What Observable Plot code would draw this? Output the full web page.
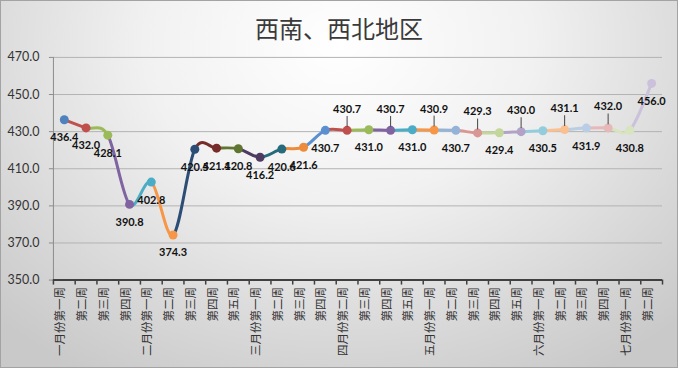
<!DOCTYPE html>
<html><head><meta charset="utf-8">
<script src="https://cdn.jsdelivr.net/npm/d3@7"></script>
<script src="https://cdn.jsdelivr.net/npm/@observablehq/plot@0.6"></script>
<style>
html,body{margin:0;padding:0;background:#fff;}
#wrap{position:relative;width:678px;height:368px;box-sizing:border-box;border:1px solid #a3a3a3;overflow:hidden;
 background:radial-gradient(ellipse 72% 105% at 50% 12%, #ffffff 0%, #f1f1f1 40%, #d9d9d9 75%, #c9c9c9 100%);}
#title{position:absolute;left:0;right:0;top:9px;text-align:center;font:24px "Noto Sans CJK SC";color:#3a3a3a;}
#chart{position:absolute;left:-1px;top:-1px;}
</style></head><body>
<div id="wrap"><div id="title">西南、西北地区</div><div id="chart"></div></div>
<script>
const weeks = ["一月份第一周","第二周","第三周","第四周",
  "二月份第一周","第二周","第三周","第四周","第五周",
  "三月份第一周","第二周","第三周","第四周",
  "四月份第二周","第三周","第四周","第五周",
  "五月份第一周","第二周","第三周","第四周","第五周",
  "六月份第一周","第二周","第三周","第四周",
  "七月份第一周","第二周"];
const values = [436.4,432.0,428.1,390.8,402.8,374.3,420.5,421.1,420.8,416.2,420.6,421.6,
  430.7,430.7,431.0,430.7,431.0,430.9,430.7,429.3,429.4,430.0,430.5,431.1,431.9,432.0,430.8,456.0];
const yTicks = [350,370,390,410,430,450,470];
// styling: colour of each point (Excel "vary colours by point")
const pointColors = ["#4F81BD","#C0504D","#9BBB59","#8064A2","#4BACC6","#F79646",
  "#2C4D75","#772C2A","#5F7530","#4D3B62","#276A7C","#EE8B3A",
  "#5B8FD0","#C0504D","#9BBB59","#8064A2","#4BACC6","#F79646",
  "#95B3D7","#D99694","#C3D69B","#B3A2C7","#93CDDD","#FAC090",
  "#B9CDE5","#E6B9B8","#D7E4BD","#CCC1DA"];
// styling: which labels sit above their point (with a leader line)
const labelAbove = [14,16,18,20,22,24,26];

const pts = values.map((v,i)=>({i, x:i+0.5, v, week:weeks[i], color:pointColors[i], above:labelAbove.includes(i+1)}));
const segs = [];
for (let i=1;i<pts.length;i++){
  const idx=[Math.max(i-2,0),i-1,i,Math.min(i+1,pts.length-1)];
  idx.forEach(k=>segs.push({seg:i, x:pts[k].x, v:pts[k].v, color:pts[i].color}));
}
function segCurve(context){
  let p=[];
  return {
    areaStart(){}, areaEnd(){},
    lineStart(){p=[];},
    point(x,y){p.push([x,y]);},
    lineEnd(){
      if(p.length<4) return;
      const [p0,p1,p2,p3]=p;
      context.moveTo(p1[0],p1[1]);
      context.bezierCurveTo(p1[0]+(p2[0]-p0[0])/6,p1[1]+(p2[1]-p0[1])/6,
        p2[0]-(p3[0]-p1[0])/6,p2[1]-(p3[1]-p1[1])/6,p2[0],p2[1]);
    }
  };
}
const leader = {draw(ctx,l){ctx.moveTo(0,0);ctx.lineTo(0,-l);}};

const chart = Plot.plot({
  width:678, height:368,
  marginLeft:53, marginRight:15, marginTop:57, marginBottom:88,
  style:{background:"transparent", fontFamily:"Lato, sans-serif"},
  x:{type:"linear", domain:[0,weeks.length], axis:null},
  y:{domain:[350,470], axis:null},
  color:{type:"identity"},
  marks:[
    Plot.gridY(yTicks.slice(1),{stroke:"#b3b3b3", strokeOpacity:1}),
    Plot.axisY({ticks:yTicks, tickFormat:d=>d.toFixed(1), tickSize:4, tickPadding:10, stroke:"#8c8c8c", fill:"#333", fontSize:12.5, fontFamily:"Lato", label:null}),
    Plot.ruleX([0],{stroke:"#8c8c8c"}),
    Plot.axisX({ticks:d3.range(0,weeks.length+1), tickFormat:()=>"", tickSize:5, stroke:"#404040", strokeWidth:1.5, label:null}),
    Plot.ruleY([350],{stroke:"#404040", strokeWidth:2}),
    Plot.text(pts,{x:"x", frameAnchor:"bottom", text:"week", rotate:-90, textAnchor:"end", dy:7, fill:"#333", fontSize:11.5, fontFamily:"Noto Sans CJK SC"}),
    Plot.line(segs,{x:"x", y:"v", z:"seg", stroke:"color", strokeWidth:3, curve:segCurve, strokeLinecap:"round"}),
    Plot.dot(pts,{x:"x", y:"v", r:4.5, fill:"color", stroke:null}),
    Plot.vector(pts.filter(d=>d.above),{x:"x", y:"v", length:10, rotate:0, anchor:"start", shape:leader, stroke:"#444", strokeWidth:1, dy:-4}),
    Plot.text(pts.filter(d=>d.above),{x:"x", y:"v", text:d=>d.v.toFixed(1), dy:-21, fill:"#111", fontSize:11, fontWeight:"bold", fontFamily:"Lato"}),
    Plot.text(pts.filter(d=>!d.above),{x:"x", y:"v", text:d=>d.v.toFixed(1), dy:18, fill:"#111", fontSize:11, fontWeight:"bold", fontFamily:"Lato"})
  ]
});
document.getElementById("chart").appendChild(chart);
</script>
</body></html>
